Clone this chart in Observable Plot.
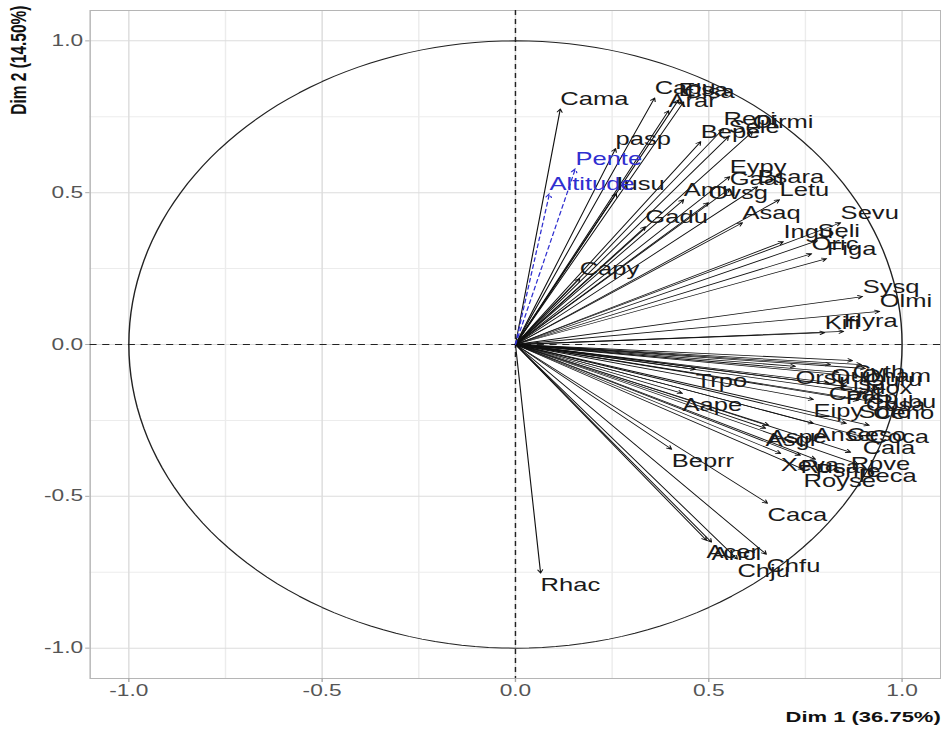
<!DOCTYPE html>
<html>
<head>
<meta charset="utf-8">
<script src="https://cdn.jsdelivr.net/npm/d3@7"></script>
<script src="https://cdn.jsdelivr.net/npm/@observablehq/plot@0.6"></script>
<style>
  html, body { margin: 0; padding: 0; background: #fff; overflow: hidden; }
  #chart { width: 941px; height: 731px; overflow: hidden; }
  #chart svg { display: block; transform: scaleX(1.42); transform-origin: 0 0; }
</style>
</head>
<body>
<div id="chart"></div>
<script>
// Active variables: correlations with the first two dimensions
const varNames = [
  "Cama", "Capu", "Elsa", "Cisa", "Arar", "pasp", "Iusu", "Bepe", "Repi", "Sele",
  "Oirmi", "Eypy", "Gaal", "Bsara", "Amu", "Ovsg", "Letu", "Asaq", "Gadu", "Capy",
  "Ingu", "Seli", "Oric", "Figa", "Sevu", "Sysq", "Olmi", "Kifi", "Hyra",
  "Orsu", "Lisa", "Quil", "Cyth", "Quru", "Oham", "Juox", "Caal", "Prsp", "Cosa",
  "Rubu", "Eipy", "Soto", "Ceno", "Trpo", "Aape", "Anse", "Ceso", "Coca", "Cala",
  "Asgl", "Aspe", "Xeva", "Rusa", "Rpve", "Psme", "Peca", "Royse", "Beprr", "Caca",
  "Ancl", "Acer", "Chfu", "Chju", "Rhac"
];
const dim1 = [
  0.116, 0.360, 0.422, 0.435, 0.396, 0.259, 0.261, 0.479, 0.538, 0.551,
  0.613, 0.554, 0.554, 0.626, 0.435, 0.499, 0.683, 0.587, 0.336, 0.166,
  0.693, 0.781, 0.766, 0.805, 0.841, 0.898, 0.942, 0.800, 0.849,
  0.724, 0.836, 0.815, 0.872, 0.905, 0.895, 0.887, 0.810, 0.854, 0.906,
  0.930, 0.771, 0.887, 0.925, 0.466, 0.432, 0.771, 0.856, 0.915, 0.898,
  0.647, 0.655, 0.686, 0.737, 0.867, 0.776, 0.887, 0.745, 0.404, 0.652,
  0.507, 0.494, 0.649, 0.574, 0.065
];
const dim2 = [
  0.776, 0.812, 0.806, 0.799, 0.770, 0.645, 0.497, 0.668, 0.711, 0.684,
  0.701, 0.553, 0.513, 0.520, 0.477, 0.467, 0.477, 0.401, 0.388, 0.217,
  0.339, 0.342, 0.299, 0.283, 0.401, 0.158, 0.109, 0.039, 0.043,
  -0.072, -0.092, -0.066, -0.053, -0.079, -0.066, -0.105, -0.125, -0.138, -0.161,
  -0.151, -0.181, -0.184, -0.188, -0.082, -0.161, -0.260, -0.260, -0.266, -0.303,
  -0.276, -0.266, -0.359, -0.365, -0.355, -0.378, -0.395, -0.411, -0.345, -0.523,
  -0.651, -0.645, -0.691, -0.707, -0.753
];

// Supplementary quantitative variables
const supNames = ["Pente", "Altitude"];
const supDim1 = [0.155, 0.088];
const supDim2 = [0.579, 0.497];

// Axes
const majorTicks = [-1, -0.5, 0, 0.5, 1];
const tickLabels = ["-1.0", "-0.5", "0.0", "0.5", "1.0"];
const minorTicks = [-0.75, -0.25, 0.25, 0.75];
const xTitle = "Dim 1 (36.75%)";
const yTitle = "Dim 2 (14.50%)";

const vars = varNames.map((name, i) => ({name, x: dim1[i], y: dim2[i]}));
const sup = supNames.map((name, i) => ({name, x: supDim1[i], y: supDim2[i]}));
// unit correlation circle
const circle = d3.range(0, 361, 2).map(a => ({x: Math.cos(a * Math.PI / 180), y: Math.sin(a * Math.PI / 180)}));
const fmt = d => tickLabels[majorTicks.indexOf(d)];

const labelFont = 18;
const ink = "#1a1a1a";
const supColor = "#2f2fd0";

const chart = Plot.plot({
  width: 663,
  height: 731,
  marginLeft: 63,
  marginRight: 1,
  marginTop: 10,
  marginBottom: 53,
  style: {fontFamily: "'Liberation Sans', Arial, sans-serif", background: "#fff"},
  x: {domain: [-1.1, 1.1]},
  y: {domain: [-1.1, 1.1]},
  marks: [
    Plot.ruleX(minorTicks, {stroke: "#ececec", strokeWidth: 1}),
    Plot.ruleY(minorTicks, {stroke: "#ececec", strokeWidth: 1}),
    Plot.ruleX(majorTicks, {stroke: "#dcdcdc", strokeWidth: 1}),
    Plot.ruleY(majorTicks, {stroke: "#dcdcdc", strokeWidth: 1}),
    Plot.frame({stroke: "#b5b5b5"}),
    Plot.axisX(majorTicks, {tickFormat: fmt, tickSize: 4, tickPadding: 2, fontSize: 16, fill: "#555", stroke: "#aaa", label: null}),
    Plot.axisY(majorTicks, {tickFormat: fmt, tickSize: 3, tickPadding: 2, fontSize: 16, fill: "#555", stroke: "#aaa", label: null}),
    Plot.ruleX([0], {stroke: "#222", strokeDasharray: "5,4", strokeWidth: 1}),
    Plot.ruleY([0], {stroke: "#222", strokeDasharray: "5,4", strokeWidth: 1}),
    Plot.line(circle, {x: "x", y: "y", stroke: "#222", strokeWidth: 1}),
    Plot.arrow(vars, {x1: d => 0, y1: d => 0, x2: "x", y2: "y", stroke: "#111", strokeWidth: 0.8, headLength: 7, headAngle: 55}),
    Plot.arrow(sup, {x1: d => 0, y1: d => 0, x2: "x", y2: "y", stroke: supColor, strokeWidth: 0.9, strokeDasharray: "4,3", headLength: 7, headAngle: 55}),
    Plot.text(vars.filter(d => d.y >= 0), {x: "x", y: "y", text: "name", textAnchor: "start", lineAnchor: "bottom", dy: -4, fontSize: labelFont, fill: ink}),
    Plot.text(vars.filter(d => d.y < 0), {x: "x", y: "y", text: "name", textAnchor: "start", lineAnchor: "top", dy: 5, fontSize: labelFont, fill: ink}),
    Plot.text(sup, {x: "x", y: "y", text: "name", textAnchor: "start", lineAnchor: "bottom", dy: -4, fontSize: labelFont, fill: supColor}),
    Plot.text([xTitle], {text: d => d, frameAnchor: "bottom-right", dy: 39, textAnchor: "end", lineAnchor: "middle", fontSize: 15.5, fontWeight: "bold", fill: "#111"}),
    Plot.text([yTitle], {text: d => d, frameAnchor: "top-left", dx: -50, dy: -5, rotate: -90, textAnchor: "end", lineAnchor: "middle", fontSize: 15.5, fontWeight: "bold", fill: "#111"})
  ]
});

document.getElementById("chart").appendChild(chart);
</script>
</body>
</html>
